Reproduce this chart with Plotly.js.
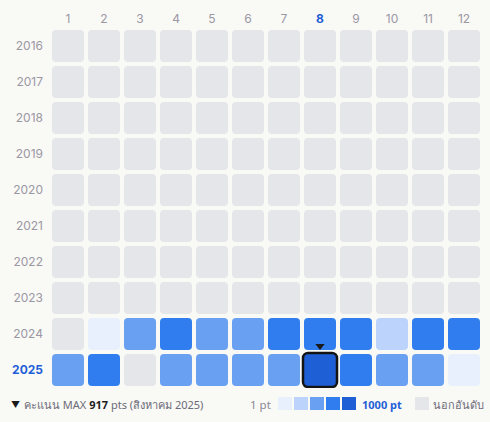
<!DOCTYPE html>
<html>
<head>
<meta charset="utf-8">
<script src="https://cdn.plot.ly/plotly-3.0.1.min.js"></script>
<style>
html,body{margin:0;padding:0;background:#f9f9f6;}
#chart{width:490px;height:422px;}
</style>
</head>
<body>
<div id="chart"></div>
<script>
// ---- data ----
const months = [1,2,3,4,5,6,7,8,9,10,11,12];
const years = [2016,2017,2018,2019,2020,2021,2022,2023,2024,2025];
const values2016 = [null,null,null,null,null,null,null,null,null,null,null,null];
const values2017 = [null,null,null,null,null,null,null,null,null,null,null,null];
const values2018 = [null,null,null,null,null,null,null,null,null,null,null,null];
const values2019 = [null,null,null,null,null,null,null,null,null,null,null,null];
const values2020 = [null,null,null,null,null,null,null,null,null,null,null,null];
const values2021 = [null,null,null,null,null,null,null,null,null,null,null,null];
const values2022 = [null,null,null,null,null,null,null,null,null,null,null,null];
const values2023 = [null,null,null,null,null,null,null,null,null,null,null,null];
const values2024 = [null,120,480,700,470,490,690,720,710,310,680,730];
const values2025 = [460,690,null,450,470,480,440,917,700,470,460,110];
const selectedYear = 2025;
const selectedMonth = 8;
const selectedMonthName = 'สิงหาคม';
const levelColors = ['#e8effd','#bcd4fb','#6aa0f2','#2f7dee','#1f5fd6'];
const emptyColor = '#e5e6ea';

const allValues = [values2016,values2017,values2018,values2019,values2020,values2021,values2022,values2023,values2024,values2025];

function colorFor(v){
  if (v === null || v === undefined) return emptyColor;
  const idx = Math.min(4, Math.floor((v-1)/200));
  return levelColors[idx];
}

const cellSize = 32/36;
const traces = [];
years.forEach((yr, i) => {
  const vals = allValues[i];
  traces.push({
    type:'bar',
    x: months,
    y: months.map(() => cellSize),
    base: months.map(() => yr - cellSize/2),
    width: cellSize,
    marker:{color: vals.map(colorFor), cornerradius: 4, line:{width:0}},
    hoverinfo:'skip',
    showlegend:false
  });
});

// selected cell
const selVals = allValues[years.indexOf(selectedYear)];
const selVal = selVals[selectedMonth-1];
const selSize = 34/36;
traces.push({
  type:'bar',
  x:[selectedMonth],
  y:[selSize],
  base:[selectedYear - selSize/2],
  width: selSize,
  marker:{color: colorFor(selVal), cornerradius: 5, line:{width:2.5, color:'#141414'}},
  hoverinfo:'skip', showlegend:false
});
traces.push({
  type:'scatter', mode:'markers',
  x:[selectedMonth], y:[selectedYear - 0.67],
  marker:{symbol:'triangle-down', size:8, color:'#1a1a1a'},
  hoverinfo:'skip', showlegend:false
});

const hl = '#1f5fd6';
const L = 50, T = 28, W = 432, H = 360;
function px(x){ return (x - L)/W; }
function py(y){ return (T + H - y)/H; }

const font = "Inter, 'Noto Sans', sans-serif";
const legFont = "'Noto Sans', sans-serif";
const grey = '#9b97a3';

const shapes = [];
const swX = [278,294,310,326,342];
swX.forEach((x,i) => {
  shapes.push({type:'rect', xref:'paper', yref:'paper', x0:px(x), x1:px(x+14), y0:py(410), y1:py(397),
    fillcolor: levelColors[i], line:{width:0}, layer:'above'});
});
shapes.push({type:'rect', xref:'paper', yref:'paper', x0:px(415), x1:px(429), y0:py(410), y1:py(397),
  fillcolor: emptyColor, line:{width:0}, layer:'above'});

const annY = py(404);
const annotations = [
  {xref:'paper', yref:'paper', x:px(9), y:annY, xanchor:'left', yanchor:'middle', showarrow:false,
   text:'▼', font:{size:9, color:'#1a1a1a', family:font}},
  {xref:'paper', yref:'paper', x:px(22), y:annY, xanchor:'left', yanchor:'middle', showarrow:false,
   text:'คะแนน MAX <b><span style="color:#1e1e1e">' + selVal + '</span></b> pts (' + selectedMonthName + ' ' + selectedYear + ')',
   font:{size:11, color:'#6c6b78', family:legFont}},
  {xref:'paper', yref:'paper', x:px(273), y:annY, xanchor:'right', yanchor:'middle', showarrow:false,
   text:'1 pt', font:{size:11.5, color:'#8a8894', family:legFont}},
  {xref:'paper', yref:'paper', x:px(360), y:annY, xanchor:'left', yanchor:'middle', showarrow:false,
   text:'<b>1000 pt</b>', font:{size:11, color:hl, family:legFont}},
  {xref:'paper', yref:'paper', x:px(431), y:annY, xanchor:'left', yanchor:'middle', showarrow:false,
   text:'นอกอันดับ', font:{size:11, color:'#6c6b78', family:legFont}}
];

const layout = {
  width:490, height:422,
  margin:{l:L, r:490-L-W, t:T, b:422-T-H, pad:0},
  paper_bgcolor:'#f9f9f6', plot_bgcolor:'#f9f9f6',
  barmode:'overlay',
  font:{family:font, color:grey, size:12},
  xaxis:{
    range:[0.5,12.5], side:'top', tickvals:months,
    ticktext: months.map(m => m === selectedMonth ? '<b><span style="color:'+hl+'">'+m+'</span></b>' : String(m)),
    showgrid:false, zeroline:false, showline:false, ticks:'', fixedrange:true,
    ticklabelstandoff:2,
    tickfont:{size:12, color:grey, family:font}
  },
  yaxis:{
    range:[2025.5,2015.5], tickvals:years,
    ticktext: years.map(y => y === selectedYear ? '<b><span style="color:'+hl+'">'+y+'</span></b>' : String(y)),
    showgrid:false, zeroline:false, showline:false, ticks:'', fixedrange:true,
    ticklabelstandoff:6,
    tickfont:{size:12, color:grey, family:font}
  },
  shapes, annotations,
  showlegend:false
};

Plotly.newPlot('chart', traces, layout, {displayModeBar:false, staticPlot:true});
</script>
</body>
</html>
